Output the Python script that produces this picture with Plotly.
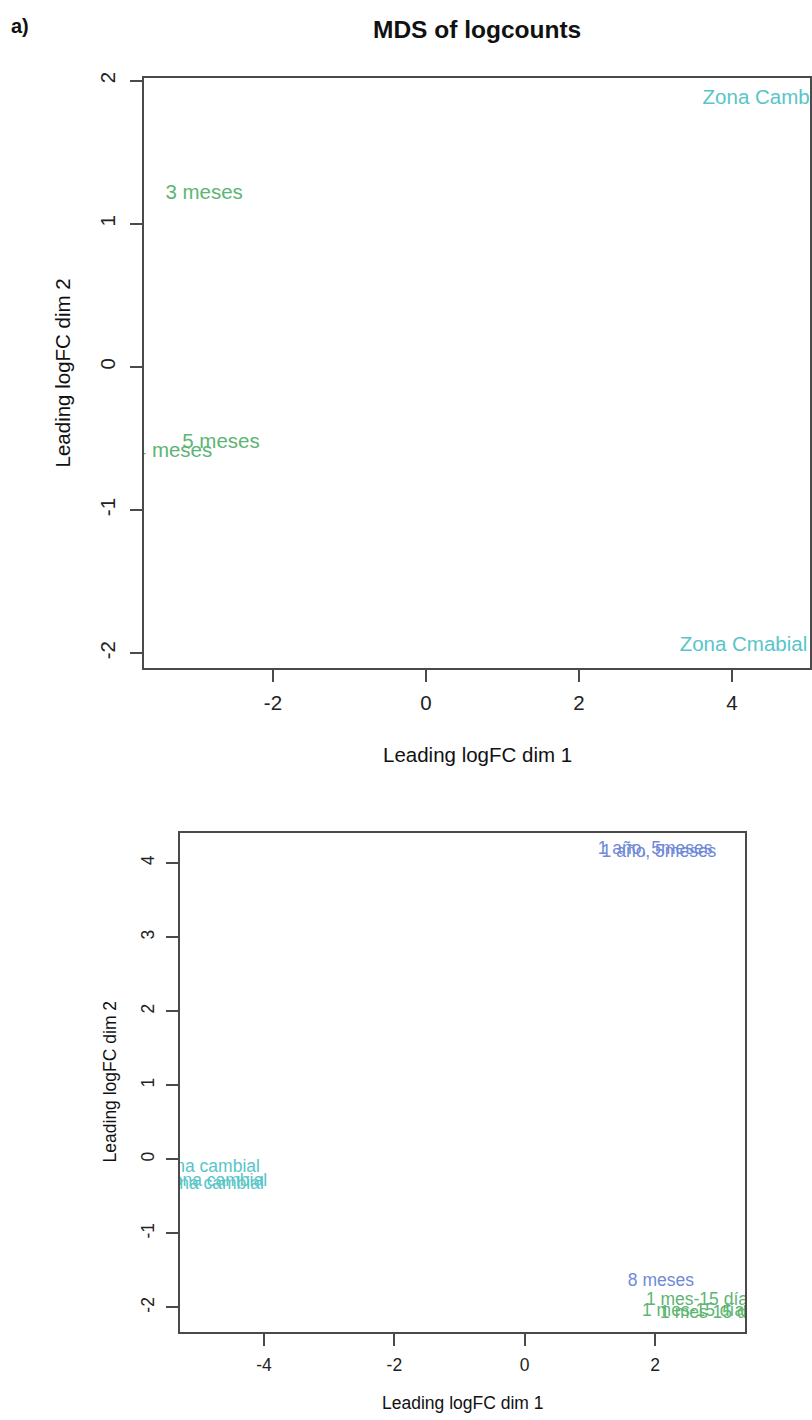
import plotly.graph_objects as go

# ---- data: MDS coordinates (leading logFC dims) ----
top_labels = ["3 meses", "5 meses", "4 meses", "Zona Cambial", "Zona Cmabial"]
top_dim1 = [-2.90, -2.68, -3.30, 4.45, 4.15]
top_dim2 = [1.21, -0.53, -0.595, 1.875, -1.95]
top_colors = ["#5db574", "#5db574", "#5db574", "#58c5c8", "#58c5c8"]

bot_labels = ["1 año, 5meses", "1 año, 5meses",
              "Zona cambial", "Zona cambial", "Zona cambial",
              "8 meses", "1 mes-15 días", "1 mes-15 días", "1 mes 15 días"]
bot_dim1 = [2.00, 2.06, -4.87, -4.76, -4.81, 2.09, 2.71, 2.65, 2.92]
bot_dim2 = [4.18, 4.14, -0.11, -0.30, -0.34, -1.65, -1.91, -2.05, -2.08]
bot_colors = ["#6f89d8", "#6f89d8",
              "#58c5c8", "#58c5c8", "#58c5c8",
              "#6f89d8", "#5db574", "#5db574", "#5db574"]

top_xticks = [-2, 0, 2, 4]
top_yticks = [-2, -1, 0, 1, 2]
bot_xticks = [-4, -2, 0, 2]
bot_yticks = [-2, -1, 0, 1, 2, 3, 4]

W, H = 812, 1420
FONT = "Liberation Sans, Arial, sans-serif"
AX = "#4a4a4a"


def px_x(x):
    return x / W


def px_y(y):
    return 1 - y / H


fig = go.Figure()

fig.add_trace(go.Scatter(
    x=top_dim1, y=top_dim2, text=top_labels, mode="text",
    textposition="middle center",
    textfont=dict(family=FONT, size=20.5, color=top_colors),
    xaxis="x", yaxis="y", hoverinfo="skip", showlegend=False))

fig.add_trace(go.Scatter(
    x=bot_dim1, y=bot_dim2, text=bot_labels, mode="text",
    textposition="middle center",
    textfont=dict(family=FONT, size=17.5, color=bot_colors),
    xaxis="x2", yaxis="y2", hoverinfo="skip", showlegend=False))


def axis(domain, rng, ticks, size, lw, anchor, rotate=False, standoff=14):
    d = dict(domain=domain, range=rng, tickvals=ticks, ticktext=[str(t) for t in ticks],
             showgrid=False, zeroline=False, showline=True, mirror=True,
             linecolor=AX, linewidth=lw, ticks="outside", ticklen=12,
             tickwidth=1.5, tickcolor=AX, anchor=anchor,
             tickfont=dict(family=FONT, size=size, color="#222222"),
             ticklabelstandoff=standoff, fixedrange=True)
    if rotate:
        d["tickangle"] = -90
    return d


fig.update_layout(
    width=W, height=H,
    margin=dict(l=0, r=0, t=0, b=0),
    paper_bgcolor="white", plot_bgcolor="white",
    xaxis=axis([px_x(144), px_x(810)], [-3.686, 5.02], top_xticks, 20.5, 2, "y", standoff=3),
    yaxis=axis([px_y(665), px_y(72.7)], [-2.104, 2.016], top_yticks, 20.5, 2, "x", rotate=True, standoff=7),
    xaxis2=axis([px_x(180), px_x(745)], [-5.29, 3.38], bot_xticks, 17.5, 1.5, "y2", standoff=4),
    yaxis2=axis([px_y(1332), px_y(831)], [-2.336, 4.40], bot_yticks, 17.5, 1.5, "x2", rotate=True, standoff=5),
)

annos = [
    dict(text="<b>a)</b>", x=px_x(20), y=px_y(20), size=20),
    dict(text="<b>MDS of logcounts</b>", x=px_x(477), y=px_y(24), size=24.5),
    dict(text="Leading logFC dim 1", x=px_x(477), y=px_y(752), size=20.5),
    dict(text="Leading logFC dim 2", x=px_x(62), y=px_y(369), size=20.5, angle=-90),
    dict(text="Leading logFC dim 1", x=px_x(462), y=px_y(1403), size=17.5),
    dict(text="Leading logFC dim 2", x=px_x(110), y=px_y(1081), size=17.5, angle=-90),
]
for a in annos:
    fig.add_annotation(text=a["text"], x=a["x"], y=a["y"], xref="paper", yref="paper",
                       xanchor="center", yanchor="middle", showarrow=False,
                       textangle=a.get("angle", 0),
                       font=dict(family=FONT, size=a["size"], color="#111111"))

fig.write_html("out.html")
